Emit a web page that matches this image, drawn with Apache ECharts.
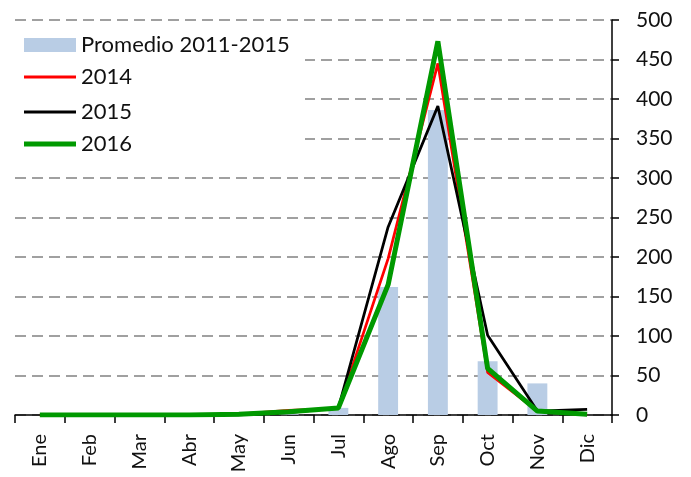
<!DOCTYPE html>
<html>
<head>
<meta charset="utf-8">
<script src="https://cdn.jsdelivr.net/npm/echarts@6/dist/echarts.min.js"></script>
<style>
  html, body { margin: 0; padding: 0; background: #fff; }
  #chart { width: 691px; height: 477px; }
</style>
</head>
<body>
<div id="chart"></div>
<script>
// Monthly values
const months = ['Ene', 'Feb', 'Mar', 'Abr', 'May', 'Jun', 'Jul', 'Ago', 'Sep', 'Oct', 'Nov', 'Dic'];
const promedio = [0, 0, 0, 0, 0, 1, 9, 162, 386, 68, 40, 0];
const y2014 = [0, 0, 0, 0, 1, 6, 8, 198, 445, 54, 5, 0];
const y2015 = [0, 0, 0, 0, 0, 3, 9, 238, 391, 101, 5, 7];
const y2016 = [0, 0, 0, 0, 1, 4, 9, 165, 473, 59, 5, 1];
const yTicks = [0, 50, 100, 150, 200, 250, 300, 350, 400, 450, 500];

const font = 'Lato, "Open Sans", "Noto Sans", sans-serif';
const chart = echarts.init(document.getElementById('chart'));

// one legend entry per row so each key gets its own stroke thickness
function legendRow(name, top, h) {
  return {
    orient: 'vertical',
    left: 24,
    top: top,
    padding: 0,
    itemWidth: 52,
    itemHeight: h,
    icon: 'rect',
    textStyle: { fontFamily: font, fontSize: 22, lineHeight: 24, color: '#111', padding: [0, 0, 0, 0] },
    itemGap: 0,
    data: [name]
  };
}

chart.setOption({
  animation: false,
  backgroundColor: '#fff',
  grid: { left: 15, right: 79, top: 20, bottom: 62, containLabel: false, outerBoundsMode: 'none' },
  graphic: [{
    type: 'rect',
    z: 3,
    shape: { x: 15, y: 29, width: 290, height: 134 },
    style: { fill: '#fff' }
  }],
  legend: [
    legendRow('Promedio 2011-2015', 33, 14),
    legendRow('2014', 65, 3),
    legendRow('2015', 100, 3),
    legendRow('2016', 132, 5)
  ],
  xAxis: {
    type: 'category',
    data: months,
    boundaryGap: true,
    axisLine: { show: true, lineStyle: { color: '#000', width: 1.5 } },
    axisTick: { show: true, length: 8, inside: false, lineStyle: { color: '#000', width: 1.5 } },
    axisLabel: { rotate: 90, margin: 19, fontFamily: font, fontSize: 20, color: '#111' },
    splitLine: { show: false }
  },
  yAxis: {
    type: 'value',
    position: 'right',
    min: yTicks[0],
    max: yTicks[yTicks.length - 1],
    interval: 50,
    axisLine: { show: true, lineStyle: { color: '#000', width: 1.5 } },
    axisTick: { show: true, length: 7, lineStyle: { color: '#000', width: 1.5 } },
    axisLabel: { margin: 24, fontFamily: font, fontSize: 21, color: '#111', hideOverlap: false },
    splitLine: {
      show: true,
      lineStyle: { color: '#a0a0a0', width: 2, type: [11, 6] }
    }
  },
  series: [
    {
      name: 'Promedio 2011-2015',
      type: 'bar',
      data: promedio,
      barWidth: '40%',
      itemStyle: { color: '#b9cde5' }
    },
    {
      name: '2014',
      type: 'line',
      data: y2014,
      symbol: 'none',
      lineStyle: { color: '#ff0000', width: 2.75 },
      itemStyle: { color: '#ff0000' }
    },
    {
      name: '2015',
      type: 'line',
      data: y2015,
      symbol: 'none',
      lineStyle: { color: '#000000', width: 2.75 },
      itemStyle: { color: '#000000' }
    },
    {
      name: '2016',
      type: 'line',
      data: y2016,
      symbol: 'none',
      lineStyle: { color: '#009900', width: 5 },
      itemStyle: { color: '#009900' }
    }
  ]
});
</script>
</body>
</html>
